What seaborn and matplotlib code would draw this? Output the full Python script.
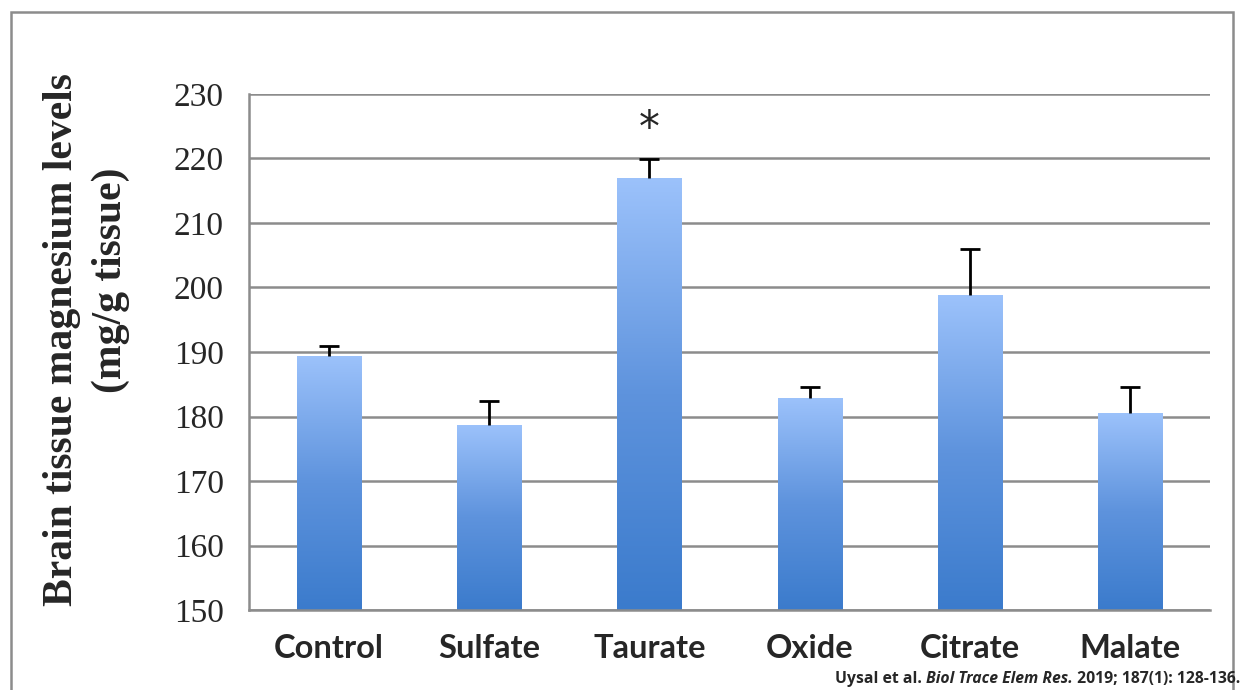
import matplotlib
matplotlib.use("Agg")

import numpy as np
import pandas as pd
import matplotlib.pyplot as plt
import seaborn as sns
from matplotlib.colors import LinearSegmentedColormap
from matplotlib.patches import Rectangle

# -----------------------------
# DATA
# -----------------------------
groups = ["Control", "Sulfate", "Taurate", "Oxide", "Citrate", "Malate"]
mg_levels = [189.4, 178.7, 217.0, 182.9, 198.8, 180.6]
mg_err = [1.5, 3.7, 2.9, 1.7, 7.1, 4.0]
significant = ["", "", "*", "", "", ""]
y_ticks = [150, 160, 170, 180, 190, 200, 210, 220, 230]

df = pd.DataFrame({"group": groups, "level": mg_levels, "err": mg_err})

# -----------------------------
# FIGURE
# -----------------------------
sns.set_style("white")
fig = plt.figure(figsize=(12.43, 6.90), dpi=100)
ax = fig.add_axes([0.2003, 0.1159, 0.7732, 0.7479])

sns.barplot(data=df, x="group", y="level", ax=ax, width=0.4,
            color="#6a9be0", errorbar=None, zorder=2)

ymin, ymax = 150, 230
grad = LinearSegmentedColormap.from_list("bar", ["#3b7bcc", "#5e93dd", "#9cc2fb"])
gimg = np.linspace(0, 1, 256).reshape(-1, 1)
for p in ax.patches:
    x0, w, top = p.get_x(), p.get_width(), p.get_height()
    p.set_facecolor("none")
    p.set_edgecolor("none")
    im = ax.imshow(gimg, cmap=grad, origin="lower", aspect="auto",
                   extent=[x0, x0 + w, ymin, top], zorder=2.5)
    im.set_clip_path(p)

# upper-only error bars (stem + top cap)
xs = np.arange(len(groups))
tops = df["level"] + df["err"]
ax.vlines(xs, df["level"], tops, color="black", linewidth=2, zorder=3)
ax.plot(xs, tops, ls="none", marker="_", ms=15, mew=2, color="black", zorder=3)

for x, t, s in zip(xs, tops, significant):
    if s:
        ax.text(x, t + 1.4, s, ha="center", va="bottom", fontsize=30,
                family="DejaVu Sans")

ax.set_xlim(-0.5, len(groups) - 0.5)
ax.set_ylim(ymin, ymax)
ax.set_yticks(y_ticks)
ax.grid(axis="y", color="#8c8c8c", linewidth=1.8, zorder=0)
ax.set_axisbelow(True)

for side in ["top", "right"]:
    ax.spines[side].set_visible(False)
for side in ["left", "bottom"]:
    ax.spines[side].set_color("#8c8c8c")
    ax.spines[side].set_linewidth(1.8)

ax.tick_params(axis="y", length=10, width=1.8, color="#8c8c8c", pad=8)
ax.tick_params(axis="x", length=0, pad=17)
ax.set_xticks(np.arange(-0.5, len(groups), 1.0), minor=True)
ax.tick_params(axis="x", which="minor", length=10, width=1.8, color="#8c8c8c")

for lab in ax.get_yticklabels():
    lab.set_fontfamily("Liberation Serif")
    lab.set_fontsize(24)
ax.set_xticks(xs)
ax.set_xticklabels(groups, fontsize=23.5, fontweight="bold", family="Lato")
ax.set_xlabel("")
ax.set_ylabel("")

# y title as two lines, placed like the original
fig.text(62 / 1243, 1 - 340 / 690, "Brain tissue magnesium levels", rotation=90,
         ha="center", va="center", fontsize=30, fontweight="bold",
         family="Liberation Serif")
fig.text(111 / 1243, 1 - 280 / 690, "(mg/g tissue)", rotation=90,
         ha="center", va="center", fontsize=30, fontweight="bold",
         family="Liberation Serif")

# outer frame
fig.patches.append(Rectangle((11 / 1243, -0.1), 1222 / 1243, 1.1 - 12 / 690,
                             transform=fig.transFigure, fill=False,
                             edgecolor="#8c8c8c", linewidth=1.8))

# citation, built right to left
fig.canvas.draw()
r = fig.canvas.get_renderer()
cx, cy = 1240 / 1243, 1 - 679 / 690
pieces = [(" 2019; 187(1): 128-136.", "normal"),
          ("Biol Trace Elem Res.", "italic"),
          ("Uysal et al. ", "normal")]
for txt, style in pieces:
    t = fig.text(cx, cy, txt, ha="right", va="center", fontsize=11.3,
                 fontweight="bold", style=style, family="Open Sans")
    bb = t.get_window_extent(r)
    cx = bb.x0 / fig.bbox.width

fig.savefig("out.png", dpi=100)
plt.close(fig)
